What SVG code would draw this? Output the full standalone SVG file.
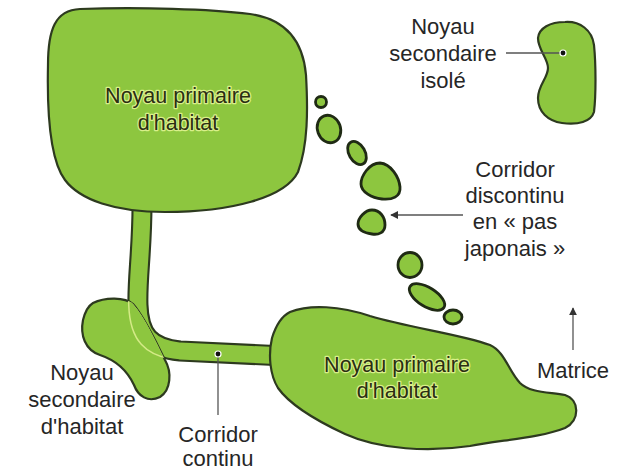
<svg xmlns="http://www.w3.org/2000/svg" width="621" height="472" viewBox="0 0 621 472">
<style>
.blob{fill:#8dc63f;stroke:#2d3a1f;stroke-width:2.2;stroke-linejoin:round}
.stone{fill:#8dc63f;stroke:#1f2a14;stroke-width:2.8}
.lbl{font-family:"Liberation Sans",Arial,sans-serif;font-size:22px;fill:#262626;text-anchor:middle}
.in{font-family:"Liberation Sans",Arial,sans-serif;font-size:21.5px;fill:#2a2e12;text-anchor:middle;stroke:#d9ef8a;stroke-width:2.5;paint-order:stroke;stroke-linejoin:round}
.ln{stroke:#555;stroke-width:1.3;fill:none}
</style>
<defs>
<marker id="ah" viewBox="0 0 10 10" refX="9" refY="5" markerWidth="8" markerHeight="8" markerUnits="userSpaceOnUse" orient="auto">
<path d="M0,0 L10,5 L0,10 Z" fill="#333"/>
</marker>
<path id="corrPath" d="M142,205 C142,250 137,280 138,305 C139,335 150,348 180,351 L285,356"/>
<path id="secPath" d="M93,303 C105,297 125,297 133,304 C145,318 155,340 165,360 C172,372 171,390 160,397 C148,403 138,396 134,385 C127,370 115,360 100,355 C85,350 80,335 83,320 C85,312 88,306 93,303 Z"/>
<clipPath id="secClip"><use href="#secPath"/></clipPath>
</defs>
<rect width="621" height="472" fill="#fff"/>

<g id="connectors">
<use href="#corrPath" fill="none" stroke="#2d3a1f" stroke-width="21"/>
<use href="#corrPath" fill="none" stroke="#8dc63f" stroke-width="16.8"/>
</g>

<g id="noyau-secondaire-habitat">
<use href="#secPath" class="blob"/>
<g clip-path="url(#secClip)">
<use href="#corrPath" fill="none" stroke="#d4ea86" stroke-width="20"/>
<use href="#corrPath" fill="none" stroke="#8dc63f" stroke-width="17"/>
</g>
<text class="lbl" x="82" y="380">Noyau</text>
<text class="lbl" x="82" y="407">secondaire</text>
<text class="lbl" x="82" y="434">d'habitat</text>
</g>

<g id="noyau-primaire-1">
<path class="blob" d="M80,9 C140,7 210,9 250,14 C285,19 303,40 306,75 C308,110 308,145 298,172 C285,198 230,212 165,212 C115,212 80,200 65,180 C50,160 47,110 48,65 C48,30 55,10 80,9 Z"/>
<text class="in" x="178" y="103">Noyau primaire</text>
<text class="in" x="178" y="130">d'habitat</text>
</g>

<g id="noyau-primaire-2">
<path class="blob" d="M290,312 C310,304 340,306 370,316 C410,328 460,334 490,345 C505,352 508,370 520,383 C530,393 550,392 565,395 C580,400 580,420 565,428 C540,438 500,440 470,446 C430,452 380,450 345,434 C315,420 290,405 278,388 C270,375 268,355 272,338 C276,325 282,316 290,312 Z"/>
<text class="in" x="397" y="372">Noyau primaire</text>
<text class="in" x="397" y="398">d'habitat</text>
</g>

<g id="noyau-secondaire-isole">
<path class="blob" d="M565,22 C580,21 592,30 594,45 C596,65 596,95 594,112 C591,122 578,125 562,123 C548,121 538,112 538,98 C538,85 548,78 548,68 C548,58 538,50 538,38 C539,28 550,22 565,22 Z"/>
<text class="lbl" x="443" y="34">Noyau</text>
<text class="lbl" x="443" y="61">secondaire</text>
<text class="lbl" x="443" y="88">isolé</text>
<line class="ln" x1="506" y1="53" x2="562" y2="53"/>
<circle cx="563" cy="53" r="3.6" fill="#fff"/>
<circle cx="563" cy="53" r="2.4" fill="#111"/>
</g>

<g id="corridor-discontinu">
<ellipse class="stone" cx="321" cy="102" rx="5.5" ry="5.5"/>
<ellipse class="stone" cx="329" cy="129" rx="11.5" ry="14" transform="rotate(-20 329 129)"/>
<ellipse class="stone" cx="357" cy="153" rx="8" ry="12.5" transform="rotate(-30 357 153)"/>
<path class="stone" d="M380,163 C391,164 399,177 400,187 C401,197 392,200 382,199 C372,198 361,192 361,184 C361,176 369,163 380,163 Z"/>
<path class="stone" d="M372,210 C380,210 385,217 385,225 C385,233 378,235 372,234 C365,233 358,230 358,224 C358,218 365,210 372,210 Z"/>
<ellipse class="stone" cx="410" cy="265" rx="12" ry="12.5"/>
<ellipse class="stone" cx="427" cy="297" rx="20" ry="9.5" transform="rotate(32 427 297)"/>
<ellipse class="stone" cx="453" cy="317" rx="9" ry="7"/>
<text class="lbl" x="515" y="177">Corridor</text>
<text class="lbl" x="515" y="203">discontinu</text>
<text class="lbl" x="515" y="229">en « pas</text>
<text class="lbl" x="515" y="256">japonais »</text>
<line class="ln" x1="463" y1="215" x2="391" y2="215" marker-end="url(#ah)"/>
</g>

<g id="corridor-continu">
<line class="ln" x1="218" y1="355" x2="218" y2="415"/>
<circle cx="218" cy="354" r="3.6" fill="#fff"/>
<circle cx="218" cy="354" r="2.4" fill="#111"/>
<text class="lbl" x="218" y="442">Corridor</text>
<text class="lbl" x="218" y="466">continu</text>
</g>

<g id="matrice">
<line class="ln" x1="573" y1="350" x2="573" y2="308" marker-end="url(#ah)"/>
<text class="lbl" x="573" y="378">Matrice</text>
</g>
</svg>
